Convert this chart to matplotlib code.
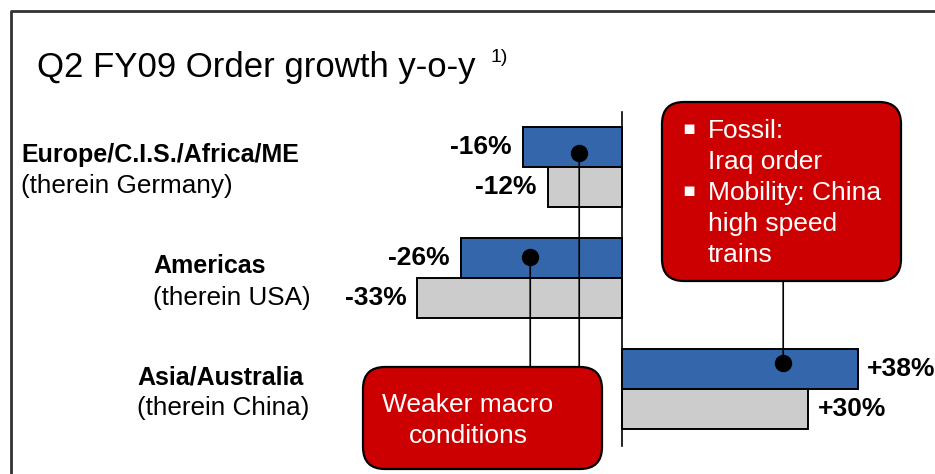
import matplotlib
matplotlib.use("Agg")
import matplotlib.pyplot as plt
import matplotlib.patches as patches
import matplotlib.transforms as mtransforms
import numpy as np

plt.rcParams['font.family'] = ['Liberation Sans', 'DejaVu Sans']

# data
regions = ['Europe/C.I.S./Africa/ME', 'Americas', 'Asia/Australia']
subregions = ['(therein Germany)', '(therein USA)', '(therein China)']
region_growth = [-16, -26, 38]
country_growth = [-12, -33, 30]
value_labels_region = ['-16%', '-26%', '+38%']
value_labels_country = ['-12%', '-33%', '+30%']

BLUE = '#3366aa'
GRAY = '#cccccc'
RED = '#cc0000'

W, H = 935, 474
fig = plt.figure(figsize=(W / 100, H / 100), dpi=100)
ax = fig.add_axes([0, 0, 1, 1])
ax.axis('off')
# x: percent, zero line at pixel 622, 6.2 px per percent
ax.set_xlim(-622 / 6.2, (W - 622) / 6.2)
# y: group index, 111 px per group, first group centre at pixel 167
ax.set_ylim((H - 167) / 111, -167 / 111)

# pixel transform (origin top-left) for layout items
px = mtransforms.Affine2D().scale(1 / W, -1 / H).translate(0, 1) + fig.transFigure

# frame
fig.add_artist(plt.Line2D([11, 11, W], [H, 11, 11], transform=px, color='#333333', lw=2))

ypos = np.arange(len(regions))
bh = 0.36
ax.barh(ypos - bh / 2, region_growth, height=bh, color=BLUE, edgecolor='black', lw=1.4, zorder=2)
ax.barh(ypos + bh / 2, country_growth, height=bh, color=GRAY, edgecolor='black', lw=1.4, zorder=2)
ax.plot([0, 0], [-0.495, 2.51], color='black', lw=1.2, zorder=3)

for i in range(len(regions)):
    for val, lab, yy in [(region_growth[i], value_labels_region[i], ypos[i] - bh / 2),
                         (country_growth[i], value_labels_country[i], ypos[i] + bh / 2)]:
        off = 7 if val > 0 else -8
        ax.annotate(lab, (val, yy), xytext=(off, 0), textcoords='offset points',
                    ha='left' if val > 0 else 'right', va='center',
                    fontsize=19, fontweight='bold')

# category labels
label_pos = [(21, 162, 193), (153, 273, 305), (137, 385, 415)]
for (x, y1, y2), r, s in zip(label_pos, regions, subregions):
    fig.text(x, y1, r, transform=px, fontsize=18, fontweight='bold', va='baseline')
    fig.text(x, y2, s, transform=px, fontsize=18.8, va='baseline')

# title
fig.text(37, 77, 'Q2 FY09 Order growth y-o-y', transform=px, fontsize=25, va='baseline')
fig.text(490, 62, '1)', transform=px, fontsize=14, va='baseline')

# callout boxes
def box(x0, y0, x1, y1):
    p = patches.FancyBboxPatch((x0, y0), x1 - x0, y1 - y0,
                               boxstyle='round,pad=0,rounding_size=22',
                               transform=px, facecolor=RED, edgecolor='black', lw=1.6, zorder=5)
    fig.add_artist(p)

box(363, 367, 602, 469)
box(662, 102, 901, 281)

fig.text(468, 412, 'Weaker macro', transform=px, fontsize=19, color='white', ha='center', va='baseline', zorder=6)
fig.text(468, 443, 'conditions', transform=px, fontsize=19, color='white', ha='center', va='baseline', zorder=6)

lines = ['Fossil:', 'Iraq order', 'Mobility: China', 'high speed', 'trains']
for k, t in enumerate(lines):
    fig.text(708, 138 + 31 * k, t, transform=px, fontsize=19, color='white', va='baseline', zorder=6)
for k in (0, 2):
    fig.text(682, 134 + 31 * k, '\u25aa', transform=px, fontsize=14, color='white', va='baseline',
             family=['DejaVu Sans'], zorder=6)

# connector dots and lines
dots_x = [-6.9, -14.8, 26.0]
dots_y = [-0.13, 0.81, 1.77]
ends_px = [367, 367, 281]
yb = mtransforms.blended_transform_factory(ax.transData, px)
for dx, dy, ep in zip(dots_x, dots_y, ends_px):
    ax.annotate('', xy=(dx, dy), xytext=(dx, ep), textcoords=yb,
                arrowprops=dict(arrowstyle='-', color='black', lw=1.2, shrinkA=0, shrinkB=0), zorder=4)
    ax.plot(dx, dy, 'o', color='black', ms=11.5, zorder=6)

fig.savefig('out.png', dpi=100)
